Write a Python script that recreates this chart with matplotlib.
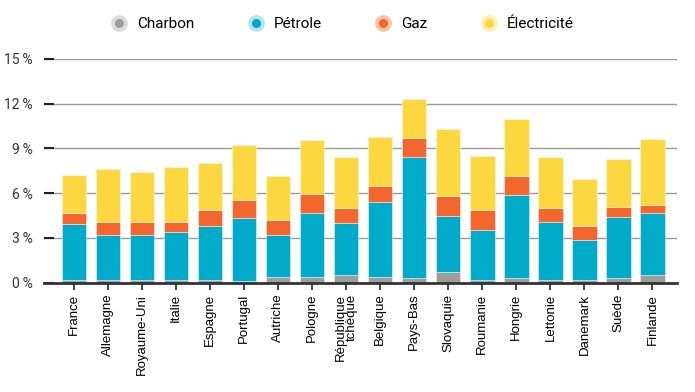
import matplotlib
matplotlib.use("Agg")
import matplotlib.pyplot as plt
import numpy as np
from matplotlib.lines import Line2D
from matplotlib.legend_handler import HandlerTuple

pays = ["France", "Allemagne", "Royaume-Uni", "Italie", "Espagne", "Portugal",
        "Autriche", "Pologne", "République\ntchèque", "Belgique", "Pays-Bas",
        "Slovaquie", "Roumanie", "Hongrie", "Lettonie", "Danemark", "Suède",
        "Finlande"]

# parts en % (empilées)
charbon = [0.18, 0.18, 0.18, 0.18, 0.18, 0.13, 0.36, 0.36, 0.48, 0.38, 0.29,
           0.69, 0.18, 0.29, 0.18, 0.16, 0.29, 0.49]
petrole = [3.72, 3.03, 3.03, 3.24, 3.62, 4.22, 2.85, 4.33, 3.52, 5.00, 8.10,
           3.80, 3.32, 5.56, 3.90, 2.67, 4.11, 4.20]
gaz = [0.79, 0.88, 0.88, 0.67, 1.07, 1.21, 0.96, 1.27, 1.00, 1.07, 1.30,
       1.29, 1.39, 1.29, 0.92, 0.99, 0.66, 0.49]
electricite = [2.52, 3.52, 3.32, 3.63, 3.15, 3.64, 2.95, 3.62, 3.40, 3.33, 2.63,
               4.49, 3.61, 3.80, 3.39, 3.10, 3.24, 4.48]

series = ["Charbon", "Pétrole", "Gaz", "Électricité"]
couleurs = ["#9d9d9c", "#00abc9", "#f3672f", "#fdd73f"]
clairs = ["#dcdcdc", "#b3e3ee", "#fbc3a6", "#feefb0"]
yticks = [0, 3, 6, 9, 12, 15]

narrow = ["Roboto", "DejaVu Sans"]
regular = ["Liberation Sans", "DejaVu Sans"]

fig = plt.figure(figsize=(6.95, 3.92), dpi=100)
ax = fig.add_axes([44 / 695, 0.2793, (677 - 44) / 695, 0.8495 - 0.2793])

x = np.arange(len(pays))
bas = np.zeros(len(pays))
for vals, c in zip([charbon, petrole, gaz, electricite], couleurs):
    ax.bar(x, vals, bottom=bas, width=0.715, color=c,
           edgecolor=(1, 1, 1, 0.45), linewidth=0.7, zorder=3)
    bas += np.array(vals)

ax.set_xlim(-0.88, 17.72)
ax.set_ylim(0, 15)
ax.set_yticks(yticks)
ax.set_yticklabels([f"{v}\u2009%" for v in yticks], family=narrow,
                   fontsize=10, color="#333333")
ax.yaxis.grid(True, color="#9a9a9a", linewidth=1, zorder=0)
ax.tick_params(axis="y", direction="in", length=7, width=1.5, color="#222222",
               pad=8)
ax.set_xticks(x)
ax.set_xticklabels(pays, rotation=90, family=regular, fontsize=9.5,
                   linespacing=0.95, va="top", ha="center",
                   multialignment="right")
ax.tick_params(axis="x", direction="out", length=5, width=1.2, color="#222222",
               pad=3)
for s in ["top", "right", "left"]:
    ax.spines[s].set_visible(False)
ax.spines["bottom"].set_color("#333333")
ax.spines["bottom"].set_linewidth(2)
ax.spines["bottom"].set_zorder(4)
ax.set_axisbelow(True)

handles = []
for c, cl in zip(couleurs, clairs):
    outer = Line2D([], [], marker="o", linestyle="", markersize=11,
                   markerfacecolor=cl, markeredgecolor=cl)
    inner = Line2D([], [], marker="o", linestyle="", markersize=5.5,
                   markerfacecolor=c, markeredgecolor=c)
    handles.append((outer, inner))
fig.legend(handles, series, handler_map={tuple: HandlerTuple(ndivide=1, pad=0)},
           loc="center", bbox_to_anchor=(0.493, 1 - 24 / 392), ncol=4,
           frameon=False, prop={"family": narrow, "size": 11},
           handlelength=1.0, handletextpad=0.7, columnspacing=3.5)

fig.savefig("out.png", dpi=100)
